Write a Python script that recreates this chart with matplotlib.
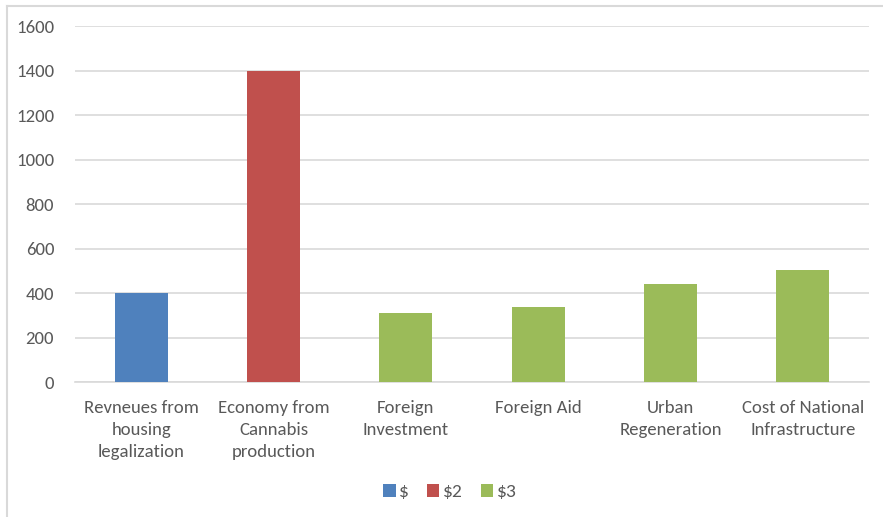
import matplotlib
matplotlib.use("Agg")
import matplotlib.pyplot as plt
from matplotlib.lines import Line2D
from matplotlib import font_manager

categories = ["Revneues from\nhousing\nlegalization", "Economy from\nCannabis\nproduction",
              "Foreign\nInvestment", "Foreign Aid", "Urban\nRegeneration",
              "Cost of National\nInfrastructure"]
values = [400, 1400, 310, 338, 440, 506]
series_of_category = ["$", "$2", "$3", "$3", "$3", "$3"]
series_names = ["$", "$2", "$3"]
series_colors = {"$": "#4f81bd", "$2": "#c0504d", "$3": "#9bbb59"}
yticks = [0, 200, 400, 600, 800, 1000, 1200, 1400, 1600]

avail = {f.name for f in font_manager.fontManager.ttflist}
fam = [f for f in ["Carlito", "Liberation Sans Narrow", "Lato"] if f in avail] + ["DejaVu Sans"]
plt.rcParams['font.family'] = fam

W, H = 883, 517
fig = plt.figure(figsize=(W / 100, H / 100), dpi=100)
ax = fig.add_axes([75 / W, 1 - 382.3 / H, (869 - 75) / W, (382.3 - 26.3) / H])

txt = "#595959"
grid = "#d9d9d9"
x = list(range(len(categories)))
for s in series_names:
    xs = [i for i in x if series_of_category[i] == s]
    vs = [values[i] for i in xs]
    ax.bar(xs, vs, width=0.4, color=series_colors[s], label=s, zorder=3)

ax.set_xlim(-0.5, len(categories) - 0.5)
ax.set_ylim(0, 1600)
ax.set_yticks(yticks)
ax.set_yticklabels([str(v) for v in yticks])
ax.yaxis.grid(True, color=grid, linewidth=1.2, zorder=0)
ax.set_xticks(x)
ax.set_xticklabels(categories, linespacing=1.45, va="top")
for sp in ["top", "right", "left"]:
    ax.spines[sp].set_visible(False)
ax.spines["bottom"].set_color(grid)
ax.spines["bottom"].set_linewidth(1.2)
ax.tick_params(axis="both", length=0, colors=txt, labelsize=13.5)
ax.tick_params(axis="x", pad=13)
ax.tick_params(axis="y", pad=15)

leg = fig.legend(loc="center", bbox_to_anchor=(450 / W, 1 - 492 / H), ncol=3, frameon=False,
                 fontsize=14, handlelength=0.65, handleheight=0.65, handletextpad=0.2,
                 columnspacing=0.9, labelcolor=txt)

fig.add_artist(Line2D([6.5 / W, 6.5 / W], [0, 1 - 5.5 / H], transform=fig.transFigure,
                      color=grid, linewidth=1.5))
fig.add_artist(Line2D([6.5 / W, 1], [1 - 5.5 / H, 1 - 5.5 / H], transform=fig.transFigure,
                      color=grid, linewidth=1.5))

fig.savefig("out.png", dpi=100)
